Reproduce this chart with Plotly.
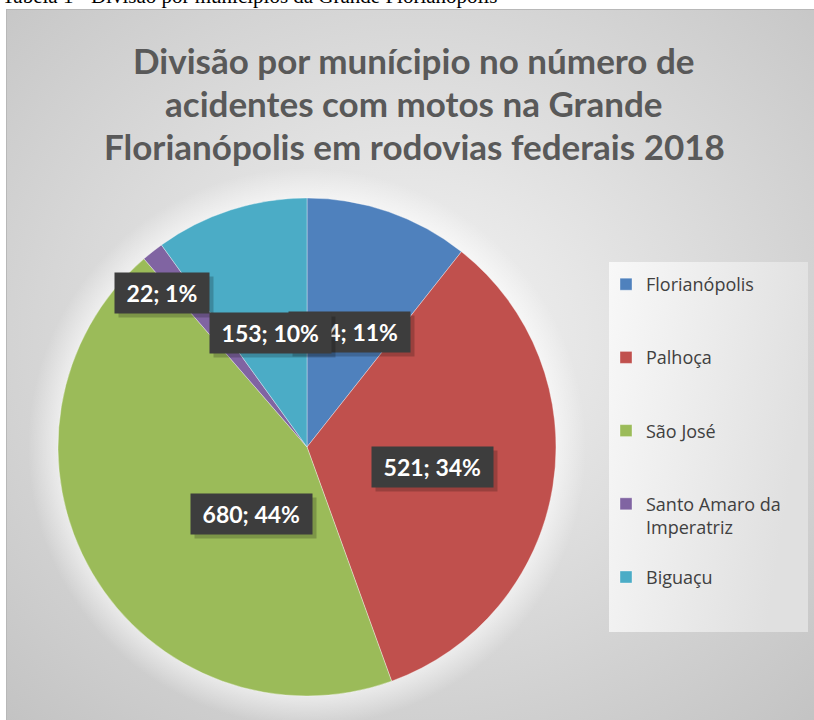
import base64, math
import plotly.graph_objects as go

# ---- data ----
municipios = ["Florianópolis", "Palhoça", "São José", "Santo Amaro da Imperatriz", "Biguaçu"]
acidentes = [164, 521, 680, 22, 153]
cores = ["#4F81BD", "#C0504D", "#9BBB59", "#8064A2", "#4BACC6"]
titulo_linhas = ["Divisão por munícipio no número de",
                 "acidentes com motos na Grande",
                 "Florianópolis em rodovias federais 2018"]
legenda_txt = ["Florianópolis<br> <br> ", "Palhoça<br> <br> ", "São José<br> <br> ",
               "Santo Amaro da<br>Imperatriz<br> ", "Biguaçu<br> <br> "]
legenda_caption = "Tabela 1 - Divisão por municípios da Grande Florianópolis"

W, H = 814, 720
# pie geometry (style)
cx, cy, R = 307, 447, 249
# label placement style: radius fraction and angular nudge (deg)
lab_r = [0.49, 0.51, 0.35, 0.85, 0.48]
lab_da = [1, 0, -20, -5, 0]

total = sum(acidentes)

fig = go.Figure(go.Pie(
    labels=legenda_txt, values=acidentes, sort=False, direction="clockwise", rotation=0,
    marker=dict(colors=cores, line=dict(color="rgba(255,255,255,0.45)", width=0.8)),
    textinfo="none", hoverinfo="label+value+percent",
    domain=dict(x=[(cx - R) / W, (cx + R) / W], y=[1 - (cy + R) / H, 1 - (cy - R) / H]),
))

# background svg (chart area gradient + legend box + pie halo)
svg = f'''<svg xmlns="http://www.w3.org/2000/svg" width="{W}" height="{H}" viewBox="0 0 {W} {H}">
<defs>
<radialGradient id="g" cx="50%" cy="45%" r="75%">
<stop offset="0" stop-color="#f4f4f4"/><stop offset="1" stop-color="#c2c2c2"/></radialGradient>
<linearGradient id="l" x1="0" y1="0" x2="1" y2="0.3">
<stop offset="0" stop-color="#f8f8f8"/><stop offset="1" stop-color="#e0e0e0"/></linearGradient>
<radialGradient id="h" cx="50%" cy="50%" r="50%">
<stop offset="0.88" stop-color="#ffffff" stop-opacity="0.6"/><stop offset="1" stop-color="#ffffff" stop-opacity="0"/></radialGradient>
</defs>
<rect x="6.5" y="9.5" width="{W}" height="{H}" fill="url(#g)" stroke="#b8b8b8" stroke-width="1"/>
<circle cx="{cx}" cy="{cy}" r="{R + 30}" fill="url(#h)"/>
<rect x="609" y="262" width="199" height="370" fill="url(#l)"/>
</svg>'''
src = "data:image/svg+xml;base64," + base64.b64encode(svg.encode()).decode()

annotations = []
# caption (partially clipped at top)
annotations.append(dict(text=legenda_caption,
                        x=0, y=1 + 4 / H, xref="paper", yref="paper", xanchor="left", yanchor="middle",
                        showarrow=False, font=dict(family="Liberation Serif", size=21, color="#000000")))
# title lines
for k, linha in enumerate(titulo_linhas):
    annotations.append(dict(text=linha, x=414 / W, y=1 - (60 + 43 * k) / H, xref="paper", yref="paper",
                            xanchor="center", yanchor="middle", showarrow=False,
                            font=dict(family="Lato", size=35, color="#595959", weight="bold")))

cum = 0
for i, v in enumerate(acidentes):
    mid = (cum + v / 2) / total * 360 + lab_da[i]
    cum += v
    px = cx + lab_r[i] * R * math.sin(math.radians(mid))
    py = cy - lab_r[i] * R * math.cos(math.radians(mid))
    txt = f"\u00a0{v}; {round(100 * v / total)}%\u00a0"
    base = dict(x=px / W, y=1 - py / H, xref="paper", yref="paper", showarrow=False,
                xanchor="center", yanchor="middle", borderpad=6)
    annotations.append(dict(base, text=txt, bgcolor="rgba(0,0,0,0.2)", xshift=4, yshift=-4,
                            font=dict(family="Lato", size=23, color="rgba(0,0,0,0)", weight="bold")))
    annotations.append(dict(base, text=txt, bgcolor="#3d3d3d",
                            font=dict(family="Lato", size=23, color="#ffffff", weight="bold")))

fig.update_layout(
    width=W, height=H, margin=dict(l=0, r=0, t=0, b=0),
    paper_bgcolor="#ffffff", plot_bgcolor="#ffffff",
    images=[dict(source=src, xref="paper", yref="paper", x=0, y=1, sizex=1, sizey=1,
                 sizing="stretch", layer="below", xanchor="left", yanchor="top")],
    legend=dict(x=606 / W, y=1 - 266 / H, xanchor="left", yanchor="top", bgcolor="rgba(0,0,0,0)",
                font=dict(family="Open Sans", size=18, color="#404040"), valign="top"),
    annotations=annotations,
    showlegend=True,
)
fig.write_html("out.html", config={"displayModeBar": False},
               post_script="document.body.style.margin='0';document.body.style.overflow='hidden';")
